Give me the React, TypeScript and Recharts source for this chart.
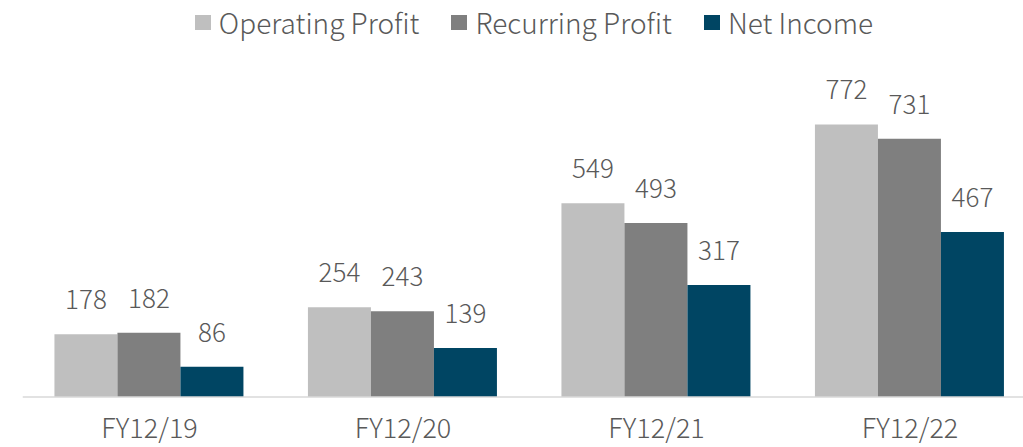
import { Bar, BarChart, LabelList, Legend, XAxis, YAxis } from "recharts";

const categories = ["FY12/19", "FY12/20", "FY12/21", "FY12/22"];
const operatingProfit = [178, 254, 549, 772];
const recurringProfit = [182, 243, 493, 731];
const netIncome = [86, 139, 317, 467];

const series = [
  { key: "operating", name: "Operating Profit", color: "#BFBFBF", values: operatingProfit },
  { key: "recurring", name: "Recurring Profit", color: "#7F7F7F", values: recurringProfit },
  { key: "net", name: "Net Income", color: "#004563", values: netIncome }
];

const data = categories.map((category, i) => ({
  category,
  operating: operatingProfit[i],
  recurring: recurringProfit[i],
  net: netIncome[i]
}));

const FONT = '"Noto Sans CJK JP", "Noto Sans", sans-serif';
const TEXT = "#595959";

function ChartLegend() {
  return (
    <div style={{ display: "flex", justifyContent: "center", alignItems: "center", fontFamily: FONT, fontWeight: 300 }}>
      {series.map((s) => (
        <div key={s.key} style={{ display: "flex", alignItems: "center", margin: "0 16px" }}>
          <span style={{ width: 16, height: 15, background: s.color, display: "inline-block", marginRight: 8 }} />
          <span style={{ fontSize: 28, color: TEXT, lineHeight: "34px" }}>{s.name}</span>
        </div>
      ))}
    </div>
  );
}

export default function App() {
  return (
    <div style={{ position: "absolute", left: 0, top: 0, width: 1023, height: 447, overflow: "hidden", background: "#fff" }}>
      <BarChart
        width={1060}
        height={447}
        data={data}
        margin={{ top: 114.5, right: 23.25, bottom: 0, left: 22.75 }}
        barCategoryGap="12.5%"
        barGap={0}
      >
        <YAxis hide domain={[0, 800]} width={0} />
        <XAxis
          dataKey="category"
          height={50}
          tickLine={false}
          tickSize={0}
          tickMargin={22}
          axisLine={{ stroke: "#D9D9D9", strokeWidth: 1.5 }}
          tick={{ fill: TEXT, fontSize: 27, fontFamily: FONT, fontWeight: 300 }}
        />
        <Legend
          verticalAlign="middle"
          align="center"
          wrapperStyle={{ top: 5, left: 0, width: 1068 }}
          content={() => <ChartLegend />}
        />
        {series.map((s) => (
          <Bar key={s.key} dataKey={s.key} name={s.name} fill={s.color} isAnimationActive={false}>
            <LabelList
              dataKey={s.key}
              position="top"
              offset={25}
              style={{ fill: TEXT, fontSize: 26, fontFamily: FONT, fontWeight: 300 }}
            />
          </Bar>
        ))}
      </BarChart>
    </div>
  );
}
